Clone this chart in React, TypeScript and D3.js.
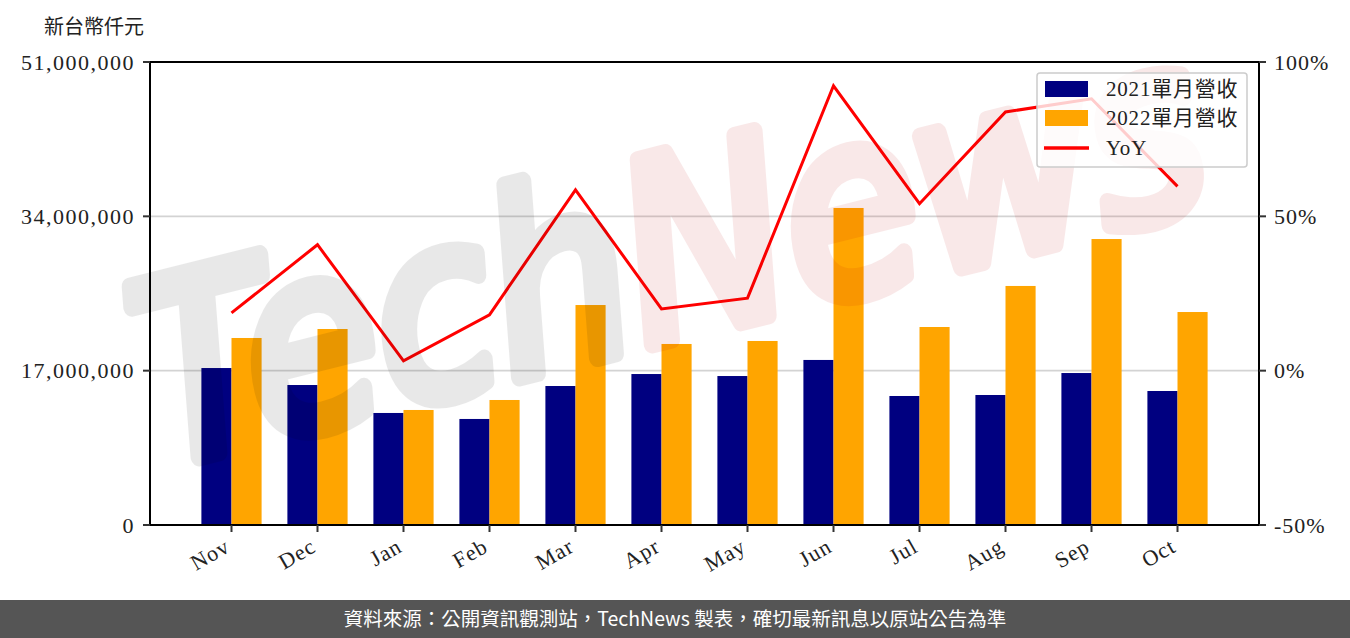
import React, { useEffect, useRef } from "react";
import * as d3 from "d3";

const months = ["Nov", "Dec", "Jan", "Feb", "Mar", "Apr", "May", "Jun", "Jul", "Aug", "Sep", "Oct"];
const rev2021 = [17.29, 15.42, 12.34, 11.68, 15.31, 16.63, 16.41, 18.18, 14.21, 14.32, 16.74, 14.76].map((v) => v * 1e6);
const rev2022 = [20.6, 21.59, 12.67, 13.77, 24.23, 19.94, 20.27, 34.92, 21.81, 26.33, 31.5, 23.46].map((v) => v * 1e6);
const yoy = [18.7, 40.8, 3.2, 18.1, 58.6, 20.0, 23.5, 92.3, 54.1, 83.8, 88.1, 59.7];
const leftTicks = [0, 17000000, 34000000, 51000000];
const rightTicks = [-50, 0, 50, 100];
const legendLabels = ["2021單月營收", "2022單月營收", "YoY"];
const unitLabel = "新台幣仟元";
const footerText = "資料來源：公開資訊觀測站，TechNews 製表，確切最新訊息以原站公告為準";

const W = 1350;
const H = 638;
const M = { left: 150, right: 1259, top: 62, bottom: 525 };
const SERIF = "'Liberation Serif', 'Noto Sans CJK TC', serif";
const CJK = "'Noto Sans CJK TC', sans-serif";

export default function App() {
  const ref = useRef<SVGSVGElement>(null);

  useEffect(() => {
    document.body.style.margin = "0";
    const svg = d3.select(ref.current);
    svg.selectAll("*").remove();

    const x = d3
      .scaleBand<string>()
      .domain(months)
      .range([M.left, M.right])
      .paddingInner(0.3)
      .paddingOuter(0.5976);
    const bw = x.bandwidth();
    const y = d3.scaleLinear().domain([0, 51000000]).range([M.bottom, M.top]);
    const y2 = d3.scaleLinear().domain([-50, 100]).range([M.bottom, M.top]);

    svg.append("rect").attr("width", W).attr("height", H).attr("fill", "#fff");

    // gridlines
    svg
      .append("g")
      .selectAll("line")
      .data(leftTicks.slice(1, 3))
      .join("line")
      .attr("x1", M.left)
      .attr("x2", M.right)
      .attr("y1", (d) => y(d))
      .attr("y2", (d) => y(d))
      .attr("stroke", "#d3d3d3")
      .attr("stroke-width", 1.6);

    // bars
    const gb = svg.append("g");
    gb.selectAll("rect.a")
      .data(rev2021)
      .join("rect")
      .attr("class", "a")
      .attr("x", (_, i) => x(months[i])!)
      .attr("width", bw / 2)
      .attr("y", (d) => y(d))
      .attr("height", (d) => y(0) - y(d))
      .attr("fill", "#000080");
    gb.selectAll("rect.b")
      .data(rev2022)
      .join("rect")
      .attr("class", "b")
      .attr("x", (_, i) => x(months[i])! + bw / 2)
      .attr("width", bw / 2)
      .attr("y", (d) => y(d))
      .attr("height", (d) => y(0) - y(d))
      .attr("fill", "#ffa500");

    // YoY line
    const line = d3
      .line<number>()
      .x((_, i) => x(months[i])! + bw / 2)
      .y((d) => y2(d));
    svg
      .append("path")
      .datum(yoy)
      .attr("d", line)
      .attr("fill", "none")
      .attr("stroke", "#ff0000")
      .attr("stroke-width", 3);

    // spines
    svg
      .append("rect")
      .attr("x", M.left)
      .attr("y", M.top)
      .attr("width", M.right - M.left)
      .attr("height", M.bottom - M.top)
      .attr("fill", "none")
      .attr("stroke", "#000")
      .attr("stroke-width", 2);

    // left axis
    const gl = svg.append("g");
    gl.selectAll("line")
      .data(leftTicks)
      .join("line")
      .attr("x1", M.left - 7)
      .attr("x2", M.left)
      .attr("y1", (d) => y(d))
      .attr("y2", (d) => y(d))
      .attr("stroke", "#333")
      .attr("stroke-width", 2);
    gl.selectAll("text")
      .data(leftTicks)
      .join("text")
      .attr("x", M.left - 15)
      .attr("y", (d) => y(d))
      .attr("dy", "0.35em")
      .attr("text-anchor", "end")
      .attr("font-family", SERIF)
      .attr("font-size", 22)
      .attr("letter-spacing", 1.5)
      .attr("fill", "#222")
      .text((d) => d3.format(",")(d));

    // right axis
    const gr = svg.append("g");
    gr.selectAll("line")
      .data(rightTicks)
      .join("line")
      .attr("x1", M.right)
      .attr("x2", M.right + 7)
      .attr("y1", (d) => y2(d))
      .attr("y2", (d) => y2(d))
      .attr("stroke", "#333")
      .attr("stroke-width", 2);
    gr.selectAll("text")
      .data(rightTicks)
      .join("text")
      .attr("x", M.right + 15)
      .attr("y", (d) => y2(d))
      .attr("dy", "0.35em")
      .attr("font-family", SERIF)
      .attr("font-size", 22)
      .attr("letter-spacing", 1)
      .attr("fill", "#222")
      .text((d) => `${d}%`);

    // bottom axis
    const gx = svg.append("g");
    gx.selectAll("line")
      .data(months)
      .join("line")
      .attr("x1", (d) => x(d)! + bw / 2)
      .attr("x2", (d) => x(d)! + bw / 2)
      .attr("y1", M.bottom)
      .attr("y2", M.bottom + 7)
      .attr("stroke", "#333")
      .attr("stroke-width", 2);
    gx.selectAll("text")
      .data(months)
      .join("text")
      .attr("transform", (d) => `translate(${x(d)! + bw / 2 - 4},${M.bottom + 19}) rotate(-30)`)
      .attr("text-anchor", "end")
      .attr("dy", "0.35em")
      .attr("font-family", SERIF)
      .attr("font-size", 22)
      .attr("letter-spacing", 1)
      .attr("fill", "#222")
      .text((d) => d);

    // unit label
    svg
      .append("text")
      .attr("x", 44)
      .attr("y", 34)
      .attr("font-family", CJK)
      .attr("font-size", 20)
      .attr("fill", "#222")
      .text(unitLabel);

    // watermark
    const wg = svg.append("g").attr("opacity", 0.085).style("pointer-events", "none");
    const wm = wg
      .append("text")
      .attr("transform", "translate(690,335) rotate(-14)")
      .attr("text-anchor", "middle")
      .attr("font-family", "'DejaVu Sans', sans-serif")
      .attr("font-style", "italic")
      .attr("font-size", 250)
      .attr("textLength", 1090)
      .attr("lengthAdjust", "spacingAndGlyphs")
      .attr("stroke-linejoin", "round")
      .attr("stroke-linecap", "round")
      .attr("stroke-width", 18);
    wm.append("tspan").attr("fill", "#000").attr("stroke", "#000").text("Tech");
    wm.append("tspan").attr("fill", "#c00000").attr("stroke", "#c00000").text("News");

    // legend
    const lg = svg.append("g");
    lg.append("rect")
      .attr("x", 1037)
      .attr("y", 73)
      .attr("width", 210)
      .attr("height", 94)
      .attr("rx", 3)
      .attr("fill", "rgba(255,255,255,0.8)")
      .attr("stroke", "#cccccc")
      .attr("stroke-width", 1.5);
    const colors = ["#000080", "#ffa500"];
    const rowY = [89, 118, 148];
    lg.selectAll("rect.p")
      .data(colors)
      .join("rect")
      .attr("class", "p")
      .attr("x", 1045)
      .attr("y", (_, i) => rowY[i] - 8)
      .attr("width", 43)
      .attr("height", 16)
      .attr("fill", (d) => d);
    lg.append("line")
      .attr("x1", 1044)
      .attr("x2", 1089)
      .attr("y1", rowY[2])
      .attr("y2", rowY[2])
      .attr("stroke", "#ff0000")
      .attr("stroke-width", 3.5);
    lg.selectAll("text")
      .data(legendLabels)
      .join("text")
      .attr("x", 1106)
      .attr("y", (_, i) => rowY[i])
      .attr("dy", "0.35em")
      .attr("font-family", SERIF)
      .attr("font-size", 21)
      .attr("letter-spacing", 0.8)
      .attr("fill", "#222")
      .text((d) => d);

    // footer
    svg.append("rect").attr("x", 0).attr("y", 600).attr("width", W).attr("height", 38).attr("fill", "#555555");
    svg
      .append("text")
      .attr("x", 675)
      .attr("y", 619)
      .attr("dy", "0.35em")
      .attr("text-anchor", "middle")
      .attr("font-family", CJK)
      .attr("font-size", 19.5)
      .attr("fill", "#ffffff")
      .text(footerText);
  }, []);

  return <svg ref={ref} width={W} height={H} style={{ display: "block" }} />;
}
